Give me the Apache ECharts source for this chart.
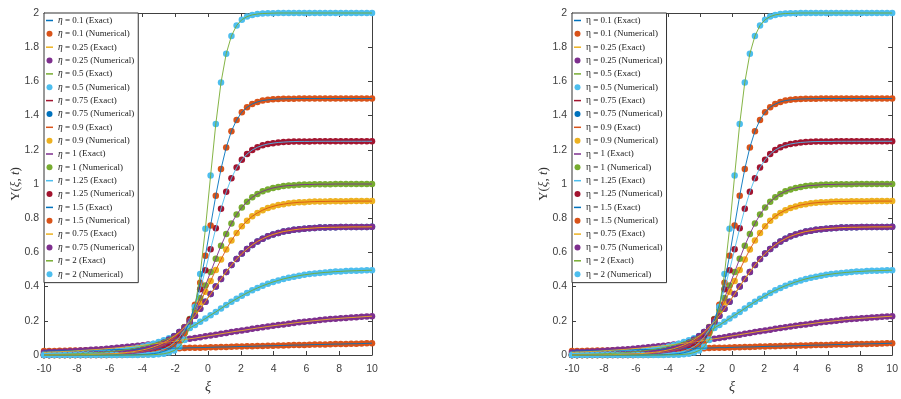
<!DOCTYPE html>
<html>
<head>
<meta charset="utf-8">
<script src="https://cdn.jsdelivr.net/npm/echarts@6/dist/echarts.min.js"></script>
<style>
  html, body { margin: 0; padding: 0; background: #ffffff; }
  #chart { width: 901px; height: 399px; }
</style>
</head>
<body>
<div id="chart"></div>
<script>
// Sample points in xi (64 points on [-10, 10])
const xi = [-10, -9.683, -9.365, -9.048, -8.730, -8.413, -8.095, -7.778, -7.460, -7.143,
  -6.825, -6.508, -6.190, -5.873, -5.556, -5.238, -4.921, -4.603, -4.286, -3.968,
  -3.651, -3.333, -3.016, -2.698, -2.381, -2.063, -1.746, -1.429, -1.111, -0.794,
  -0.476, -0.159, 0.159, 0.476, 0.794, 1.111, 1.429, 1.746, 2.063, 2.381,
  2.698, 3.016, 3.333, 3.651, 3.968, 4.286, 4.603, 4.921, 5.238, 5.556,
  5.873, 6.190, 6.508, 6.825, 7.143, 7.460, 7.778, 8.095, 8.413, 8.730,
  9.048, 9.365, 9.683, 10];

// Y(xi, t) for each eta
const yEta01 = [0.023, 0.023, 0.024, 0.025, 0.025, 0.026, 0.026, 0.027, 0.028, 0.028,
  0.029, 0.030, 0.030, 0.031, 0.032, 0.032, 0.033, 0.034, 0.034, 0.035,
  0.036, 0.037, 0.037, 0.038, 0.039, 0.040, 0.040, 0.041, 0.042, 0.043,
  0.043, 0.044, 0.045, 0.046, 0.047, 0.047, 0.048, 0.049, 0.050, 0.051,
  0.051, 0.052, 0.053, 0.054, 0.054, 0.055, 0.056, 0.057, 0.058, 0.058,
  0.059, 0.060, 0.061, 0.061, 0.062, 0.063, 0.064, 0.064, 0.065, 0.066,
  0.066, 0.067, 0.068, 0.069];
const yEta025 = [0.015, 0.017, 0.018, 0.019, 0.021, 0.022, 0.024, 0.026, 0.028, 0.030,
  0.032, 0.034, 0.037, 0.039, 0.042, 0.045, 0.048, 0.051, 0.054, 0.057,
  0.061, 0.065, 0.069, 0.073, 0.077, 0.081, 0.085, 0.090, 0.095, 0.099,
  0.104, 0.109, 0.114, 0.119, 0.124, 0.129, 0.134, 0.139, 0.143, 0.148,
  0.153, 0.158, 0.162, 0.167, 0.171, 0.175, 0.179, 0.183, 0.187, 0.191,
  0.194, 0.198, 0.201, 0.204, 0.207, 0.210, 0.212, 0.215, 0.217, 0.219,
  0.221, 0.223, 0.225, 0.227];
const yEta05 = [0.003, 0.003, 0.004, 0.004, 0.005, 0.006, 0.007, 0.008, 0.010, 0.011,
  0.013, 0.015, 0.018, 0.021, 0.024, 0.028, 0.032, 0.037, 0.043, 0.050,
  0.057, 0.066, 0.076, 0.086, 0.098, 0.111, 0.126, 0.141, 0.158, 0.175,
  0.194, 0.213, 0.233, 0.252, 0.272, 0.292, 0.311, 0.329, 0.346, 0.363,
  0.378, 0.392, 0.405, 0.416, 0.427, 0.436, 0.445, 0.452, 0.458, 0.464,
  0.469, 0.473, 0.477, 0.480, 0.483, 0.485, 0.488, 0.489, 0.491, 0.492,
  0.493, 0.494, 0.495, 0.496];
const yEta075 = [0.000, 0.000, 0.001, 0.001, 0.001, 0.001, 0.001, 0.002, 0.002, 0.003,
  0.004, 0.005, 0.006, 0.007, 0.009, 0.012, 0.015, 0.019, 0.024, 0.030,
  0.037, 0.047, 0.058, 0.072, 0.089, 0.110, 0.134, 0.162, 0.194, 0.230,
  0.270, 0.312, 0.356, 0.401, 0.445, 0.486, 0.526, 0.561, 0.593, 0.620,
  0.644, 0.664, 0.680, 0.694, 0.705, 0.714, 0.722, 0.727, 0.732, 0.736,
  0.739, 0.741, 0.743, 0.745, 0.746, 0.747, 0.747, 0.748, 0.748, 0.749,
  0.749, 0.749, 0.749, 0.750];
const yEta09 = [0.000, 0.000, 0.000, 0.000, 0.000, 0.000, 0.001, 0.001, 0.001, 0.001,
  0.002, 0.002, 0.003, 0.004, 0.005, 0.007, 0.009, 0.011, 0.015, 0.020,
  0.026, 0.035, 0.046, 0.060, 0.078, 0.101, 0.129, 0.164, 0.206, 0.254,
  0.309, 0.370, 0.433, 0.497, 0.559, 0.617, 0.669, 0.714, 0.753, 0.785,
  0.811, 0.831, 0.847, 0.860, 0.869, 0.877, 0.882, 0.887, 0.890, 0.893,
  0.894, 0.896, 0.897, 0.898, 0.898, 0.899, 0.899, 0.899, 0.899, 0.900,
  0.900, 0.900, 0.900, 0.900];
const yEta1 = [0.000, 0.000, 0.000, 0.000, 0.000, 0.000, 0.000, 0.000, 0.001, 0.001,
  0.001, 0.001, 0.002, 0.002, 0.003, 0.004, 0.006, 0.008, 0.011, 0.015,
  0.021, 0.028, 0.038, 0.052, 0.070, 0.093, 0.124, 0.162, 0.210, 0.267,
  0.333, 0.407, 0.485, 0.563, 0.639, 0.708, 0.769, 0.821, 0.863, 0.896,
  0.922, 0.942, 0.957, 0.968, 0.977, 0.983, 0.988, 0.991, 0.993, 0.995,
  0.997, 0.997, 0.998, 0.999, 0.999, 0.999, 1.000, 1.000, 1.000, 1.000,
  1.000, 1.000, 1.000, 1.000];
const yEta125 = [0.000, 0.000, 0.000, 0.000, 0.000, 0.000, 0.000, 0.000, 0.000, 0.000,
  0.000, 0.000, 0.000, 0.001, 0.001, 0.001, 0.002, 0.003, 0.005, 0.007,
  0.010, 0.015, 0.023, 0.034, 0.049, 0.072, 0.104, 0.148, 0.208, 0.287,
  0.384, 0.496, 0.618, 0.741, 0.855, 0.954, 1.034, 1.096, 1.142, 1.175,
  1.199, 1.215, 1.226, 1.234, 1.239, 1.243, 1.245, 1.247, 1.248, 1.249,
  1.249, 1.249, 1.250, 1.250, 1.250, 1.250, 1.250, 1.250, 1.250, 1.250,
  1.250, 1.250, 1.250, 1.250];
const yEta15 = [0.000, 0.000, 0.000, 0.000, 0.000, 0.000, 0.000, 0.000, 0.000, 0.000,
  0.000, 0.000, 0.000, 0.000, 0.000, 0.000, 0.001, 0.001, 0.002, 0.003,
  0.005, 0.008, 0.013, 0.021, 0.033, 0.053, 0.083, 0.129, 0.197, 0.294,
  0.423, 0.581, 0.757, 0.932, 1.088, 1.214, 1.309, 1.375, 1.420, 1.449,
  1.468, 1.480, 1.488, 1.492, 1.495, 1.497, 1.498, 1.499, 1.499, 1.500,
  1.500, 1.500, 1.500, 1.500, 1.500, 1.500, 1.500, 1.500, 1.500, 1.500,
  1.500, 1.500, 1.500, 1.500];
const yEta2 = [0.000, 0.000, 0.000, 0.000, 0.000, 0.000, 0.000, 0.000, 0.000, 0.000,
  0.000, 0.000, 0.000, 0.000, 0.000, 0.000, 0.000, 0.000, 0.000, 0.001,
  0.001, 0.002, 0.004, 0.007, 0.014, 0.026, 0.048, 0.088, 0.160, 0.282,
  0.473, 0.738, 1.049, 1.351, 1.594, 1.762, 1.866, 1.927, 1.961, 1.979,
  1.989, 1.994, 1.997, 1.998, 1.999, 2.000, 2.000, 2.000, 2.000, 2.000,
  2.000, 2.000, 2.000, 2.000, 2.000, 2.000, 2.000, 2.000, 2.000, 2.000,
  2.000, 2.000, 2.000, 2.000];

// Curves in plotting order, with the eta shown in the legend
const etaLabels = ['0.1', '0.25', '0.5', '0.75', '0.9', '1', '1.25', '1.5', '0.75', '2'];
const curveValues = [yEta01, yEta025, yEta05, yEta075, yEta09, yEta1, yEta125, yEta15, yEta075, yEta2];

// Axis ticks
const xTicks = { min: -10, max: 10, interval: 2 };
const yTicks = { min: 0, max: 2, interval: 0.2 };

// MATLAB default colour order
const colorOrder = ['#0072BD', '#D95319', '#EDB120', '#7E2F8E', '#77AC30', '#4DBEEE', '#A2142F'];

const axisColor = '#404040';
const serif = 'Liberation Serif, DejaVu Serif, serif';
const sans = 'Liberation Sans, Arial, sans-serif';
const lineIcon = 'path://M0,0H14V3H0Z';

const panels = [
  { left: 44, italicEta: true },
  { left: 572, italicEta: false }
];

const grid = [], xAxis = [], yAxis = [], series = [], legend = [];

panels.forEach((p, pi) => {
  grid.push({ left: p.left, top: 13, width: 328, height: 344 });
  const tick = { show: true, inside: true, length: 4, lineStyle: { color: axisColor, width: 1 } };
  const line = { show: true, onZero: false, lineStyle: { color: axisColor, width: 1 } };

  xAxis.push({
    type: 'value', gridIndex: pi, position: 'bottom',
    min: xTicks.min, max: xTicks.max, interval: xTicks.interval,
    axisLine: line, axisTick: tick, splitLine: { show: false },
    axisLabel: { margin: 9, fontSize: 10.5, color: axisColor, fontFamily: sans },
    name: 'ξ', nameLocation: 'middle', nameGap: 25, nameMoveOverlap: false,
    nameTextStyle: { fontFamily: serif, fontStyle: 'italic', fontSize: 14, color: '#333' }
  });
  xAxis.push({
    type: 'value', gridIndex: pi, position: 'top',
    min: xTicks.min, max: xTicks.max, interval: xTicks.interval,
    axisLine: line, axisTick: tick, splitLine: { show: false },
    axisLabel: { show: false }
  });
  yAxis.push({
    type: 'value', gridIndex: pi, position: 'left',
    min: yTicks.min, max: yTicks.max, interval: yTicks.interval,
    axisLine: line, axisTick: tick, splitLine: { show: false },
    axisLabel: { margin: 5, fontSize: 10.5, color: axisColor, fontFamily: sans },
    name: '{u|Y(}{i|ξ}{u|, }{i|t}{u|)}', nameLocation: 'middle', nameGap: 22,
    nameMoveOverlap: false,
    nameTextStyle: {
      color: '#333',
      rich: {
        u: { fontFamily: serif, fontSize: 13, color: '#333' },
        i: { fontFamily: serif, fontSize: 13, fontStyle: 'italic', color: '#333' }
      }
    }
  });
  yAxis.push({
    type: 'value', gridIndex: pi, position: 'right',
    min: yTicks.min, max: yTicks.max, interval: yTicks.interval,
    axisLine: line, axisTick: tick, splitLine: { show: false },
    axisLabel: { show: false }
  });

  const legendItems = [];
  curveValues.forEach((vals, ci) => {
    const pts = xi.map((x, k) => [x, vals[k]]);
    const exactName = `${pi}-${ci}E|η = ${etaLabels[ci]} (Exact)`;
    const numName = `${pi}-${ci}N|η = ${etaLabels[ci]} (Numerical)`;
    legendItems.push({ name: exactName, icon: lineIcon }, { name: numName, icon: 'circle' });
    const cE = colorOrder[(2 * ci) % 7];
    const cN = colorOrder[(2 * ci + 1) % 7];
    series.push({
      type: 'line', name: exactName,
      xAxisIndex: 2 * pi, yAxisIndex: 2 * pi,
      data: pts, symbol: 'none', clip: false,
      lineStyle: { color: cE, width: 0.9 }, itemStyle: { color: cE },
      animation: false, silent: true
    });
    series.push({
      type: 'scatter', name: numName,
      xAxisIndex: 2 * pi, yAxisIndex: 2 * pi,
      data: pts, symbol: 'circle', symbolSize: 6.5, clip: false,
      itemStyle: { color: cN, opacity: 1 },
      animation: false, silent: true
    });
  });

  const etaStyle = p.italicEta
    ? { fontFamily: serif, fontStyle: 'italic', fontSize: 9.5, lineHeight: 13, color: '#1a1a1a' }
    : { fontFamily: serif, fontSize: 9.5, lineHeight: 13, color: '#1a1a1a' };

  legend.push({
    orient: 'vertical', left: p.left, top: 13,
    data: legendItems, selectedMode: false,
    itemWidth: 7, itemHeight: 6, itemGap: 0.35,
    padding: [1, 4, 2, 2],
    borderColor: '#333', borderWidth: 1, backgroundColor: '#ffffff',
    formatter: (name) => {
      const txt = name.split('|')[1];
      return '{e|η}{t|' + txt.slice(1) + '}';
    },
    textStyle: {
      fontFamily: serif, fontSize: 9, lineHeight: 13, color: '#1a1a1a',
      rich: {
        e: etaStyle,
        t: { fontFamily: serif, fontSize: 9, lineHeight: 13, color: '#1a1a1a' }
      }
    }
  });
});

const chart = echarts.init(document.getElementById('chart'), null, { renderer: 'canvas' });
chart.setOption({
  animation: false,
  backgroundColor: '#ffffff',
  grid, xAxis, yAxis, legend, series
});
</script>
</body>
</html>
